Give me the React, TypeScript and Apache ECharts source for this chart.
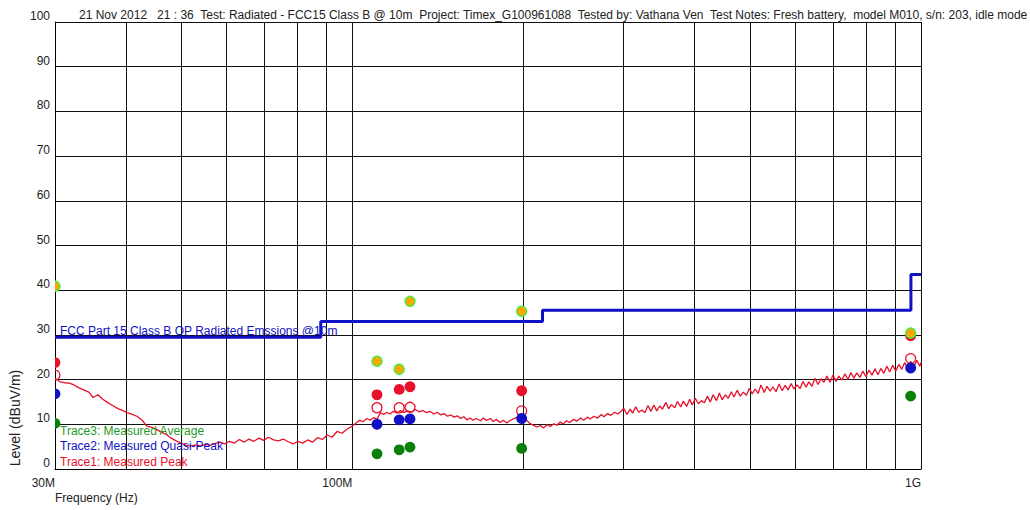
import React, { useEffect, useRef } from 'react';
import * as echarts from 'echarts';

// ---- Axis ticks / labels ----
const gridFreqs = [40, 50, 60, 70, 80, 90, 100, 200, 300, 400, 500, 600, 700, 800, 900, 1000]; // MHz
const xLabelFreqs = [30, 100, 1000]; // MHz
const xLabelTexts = ['30M', '100M', '1G'];

// ---- Trace1: Measured Peak (sweep), MHz / dBuV/m ----
const lowFreqs = [30, 30.6, 31.2, 31.8, 32.4, 33, 33.7, 34.4, 35, 35.7, 36.4, 37.2, 37.9, 38.7, 39.4, 40.2, 41, 41.8, 42.7, 43.5, 44.4, 45.3, 46.2, 47.1, 48, 49, 50, 51, 52, 53, 54, 55.1, 56.2, 57.3, 58.5, 59.6, 60.8, 62, 63.3, 64.5, 65.8, 67.1, 68.5, 69.8, 71.2, 72.7, 74.1, 75.6, 77.1, 78.7, 80.2, 81.8, 83.5, 85.1, 86.8, 88.6, 90.3, 92.1, 94, 95.9, 97.8];
const lowLevels = [20.3, 19.5, 19.3, 19.2, 18.8, 18.2, 17.7, 17.2, 16.0, 16.6, 15.6, 14.8, 14.2, 13.5, 13.1, 12.6, 12.2, 11.8, 10.9, 9.6, 9.3, 8.8, 8.2, 7.7, 6.9, 6.3, 5.8, 5.3, 5.1, 5.4, 5.1, 5.5, 5.3, 5.7, 6.0, 5.6, 6.2, 5.8, 6.6, 6.0, 6.7, 6.2, 6.9, 6.4, 7.1, 6.5, 6.3, 6.7, 6.1, 5.6, 6.2, 5.8, 6.5, 6.0, 7.0, 6.6, 7.6, 7.1, 8.4, 8.0, 8.9];
const midFreqs = [100, 101.5, 103, 104.5, 106, 107.5, 109, 110.5, 112, 113.5, 115, 116.5, 118, 120, 121.5, 123, 125, 127, 129, 131, 133, 135, 137, 139, 141, 143, 145, 147, 149, 151, 153, 155, 157, 159, 161, 163, 165, 168, 170, 172, 175, 177, 179, 182, 184, 187, 189, 192, 195, 197, 200, 203, 205, 208, 211, 214, 217, 220, 223, 226, 229, 232, 235, 238, 241, 245, 248, 252, 255, 259, 262, 266, 270, 274, 277, 281, 285, 289, 293, 297];
const midLevels = [9.6, 10.3, 10.9, 10.6, 11.3, 10.9, 11.5, 11.1, 12.6, 12.2, 12.7, 12.3, 12.9, 12.5, 13.1, 12.6, 13.0, 12.7, 13.3, 12.8, 13.1, 12.6, 12.9, 12.3, 12.7, 12.1, 12.4, 11.8, 12.1, 11.6, 11.9, 11.3, 11.7, 11.0, 11.4, 10.9, 11.3, 10.8, 11.4, 10.9, 11.3, 10.6, 11.1, 10.4, 10.9, 10.3, 10.8, 11.2, 11.6, 11.9, 11.4, 10.8, 10.2, 9.8, 9.4, 9.7, 9.2, 9.9, 9.5, 10.1, 9.8, 10.5, 10.1, 10.8, 10.4, 11.1, 10.7, 11.4, 10.9, 11.6, 11.2, 11.8, 11.4, 12.2, 11.7, 12.4, 12.0, 12.7, 12.3, 12.9];
const highFreqs = [300, 304, 308, 311, 315, 319, 323, 327, 331, 335, 339, 343, 347, 351, 356, 360, 364, 369, 373, 378, 382, 387, 392, 396, 401, 406, 411, 416, 421, 426, 431, 437, 442, 447, 453, 458, 464, 469, 475, 481, 487, 493, 499, 505, 511, 517, 523, 530, 536, 543, 549, 556, 563, 570, 577, 584, 591, 598, 605, 613, 620, 628, 635, 643, 651, 659, 667, 675, 683, 692, 700, 709, 717, 726, 735, 744, 753, 762, 771, 781, 790, 800, 810, 820, 830, 840, 850, 860, 871, 881, 892, 903, 914, 925, 936, 948, 959, 971, 983, 995, 1000];
const highLevels = [13.6, 12.2, 13.4, 12.5, 13.9, 12.7, 13.2, 12.6, 14.2, 12.9, 14.3, 13.0, 14.1, 13.4, 14.9, 13.5, 14.4, 13.7, 15.1, 13.9, 15.2, 14.0, 15.6, 14.3, 15.8, 14.6, 15.3, 14.8, 16.3, 15.0, 16.6, 15.3, 17.0, 15.5, 16.6, 15.8, 17.3, 16.1, 17.6, 16.3, 17.2, 16.5, 18.0, 16.8, 17.9, 16.9, 18.8, 17.1, 18.5, 17.4, 18.4, 17.3, 19.0, 17.5, 18.7, 17.7, 19.1, 17.9, 18.8, 18.0, 19.6, 18.3, 19.5, 18.5, 20.3, 18.9, 20.2, 19.4, 20.8, 19.4, 21.0, 19.6, 20.8, 19.9, 21.3, 20.0, 21.6, 20.3, 21.5, 20.5, 21.9, 20.7, 22.1, 21.0, 22.4, 21.1, 22.5, 21.4, 23.0, 21.7, 23.2, 21.9, 23.4, 22.3, 23.8, 22.5, 24.1, 22.8, 24.3, 23.0, 23.8];

// ---- Limit: FCC Part 15 Class B QP @10m ----
const limitFreqs = [30, 88, 88, 216, 216, 960, 960, 1000];
const limitLevels = [29.5, 29.5, 33, 33, 35.5, 35.5, 43.5, 43.5];

// ---- Marker points (MHz) ----
const markerFreqs = [30, 110.5, 120.9, 126.3, 198.5, 958.9];
const peakHollowLevels = [21.0, 13.7, 13.7, 13.8, 13.0, 24.7];
const peakLevels = [23.8, 16.6, 17.8, 18.4, 17.5, 29.8];
const avgLevels = [10.2, 3.4, 4.3, 4.9, 4.6, 16.3];
const qpLevels = [16.8, 10.0, 11.0, 11.2, 11.3, 22.6];
const limitMarkerLevels = [40.9, 24.1, 22.3, 37.5, 35.3, 30.4];

const TITLE = '21 Nov 2012   21 : 36  Test: Radiated - FCC15 Class B @ 10m  Project: Timex_G100961088  Tested by: Vathana Ven  Test Notes: Fresh battery,  model M010, s/n: 203, idle mode';

const FONT = "'Liberation Sans', Arial, sans-serif";
const RED = '#e8102a';
const BLUE = '#1010c4';
const GREEN = '#0a800a';

const lg = (f: number) => Math.log10(f);
const pairs = (fs: number[], vs: number[]) => fs.map((f, i) => [lg(f), vs[i]]);

function markerSeries(name: string, levels: number[], r: number, style: any, z: number) {
  return {
    type: 'custom',
    name,
    clip: true,
    z,
    data: pairs(markerFreqs, levels),
    encode: { x: 0, y: 1 },
    renderItem: (params: any, api: any) => {
      const p = api.coord([api.value(0), api.value(1)]);
      return { type: 'circle', shape: { cx: p[0], cy: p[1], r }, style };
    },
  };
}

function buildOption() {
  const text = (t: string, x: number, y: number, fill: string, fontSize = 12, extra: any = {}) => ({
    type: 'text',
    x,
    y,
    z: 50,
    ...extra,
    style: { text: t, fill, fontSize, fontFamily: FONT, align: 'left', verticalAlign: 'middle', ...(extra.style || {}) },
  });
  return {
    animation: false,
    backgroundColor: '#ffffff',
    textStyle: { fontFamily: FONT },
    grid: { left: 55, right: 109, top: 22, bottom: 41 },
    xAxis: {
      type: 'value',
      min: lg(30),
      max: lg(1000),
      axisLine: { show: true, lineStyle: { color: '#000', width: 1 } },
      axisTick: { show: false, customValues: gridFreqs.map(lg) },
      splitLine: { show: true, lineStyle: { color: '#111', width: 1 } },
      axisLabel: {
        customValues: xLabelFreqs.map(lg),
        formatter: (v: number) => {
          let best = 0;
          xLabelFreqs.forEach((f, i) => {
            if (Math.abs(lg(f) - v) < Math.abs(lg(xLabelFreqs[best]) - v)) best = i;
          });
          return xLabelTexts[best];
        },
        align: 'right',
        fontSize: 12,
        color: '#222',
        fontFamily: FONT,
        margin: 8,
        showMinLabel: true,
        showMaxLabel: true,
      },
    },
    yAxis: {
      type: 'value',
      min: 0,
      max: 100,
      interval: 10,
      axisLine: { show: true, lineStyle: { color: '#000', width: 1 } },
      axisTick: { show: false },
      splitLine: { show: true, lineStyle: { color: '#111', width: 1 } },
      axisLabel: { fontSize: 12, color: '#222', fontFamily: FONT, verticalAlign: 'bottom', margin: 5 },
    },
    graphic: [
      text(TITLE, 79, 15, '#222'),
      text('FCC Part 15 Class B QP Radiated Emssions @10m', 60, 331, BLUE),
      text('Trace3: Measured Average', 60, 431, '#1f9a1f'),
      text('Trace2: Measured Quasi-Peak', 60, 446, BLUE),
      text('Trace1: Measured Peak', 60, 462, RED),
      text('Frequency (Hz)', 55, 498, '#222'),
      text('Level (dBuV/m)', 15, 418, '#222', 14, { rotation: Math.PI / 2, style: { align: 'center' } }),
    ],
    series: [
      {
        type: 'line',
        name: 'Trace1: Measured Peak',
        data: [...pairs(lowFreqs, lowLevels), ...pairs(midFreqs, midLevels), ...pairs(highFreqs, highLevels)],
        showSymbol: false,
        lineStyle: { color: RED, width: 1.3 },
        itemStyle: { color: RED },
        z: 2,
      },
      {
        type: 'line',
        name: 'Limit',
        data: pairs(limitFreqs, limitLevels),
        showSymbol: false,
        lineStyle: { color: BLUE, width: 3 },
        itemStyle: { color: BLUE },
        z: 3,
      },
      markerSeries('Peak hollow', peakHollowLevels, 5, { fill: 'rgba(255,255,255,0)', stroke: RED, lineWidth: 1.3 }, 4),
      markerSeries('Peak', peakLevels, 5.4, { fill: RED, stroke: RED, lineWidth: 0 }, 5),
      markerSeries('Average', avgLevels, 5.4, { fill: GREEN, stroke: GREEN, lineWidth: 0 }, 6),
      markerSeries('Quasi-Peak', qpLevels, 5.4, { fill: BLUE, stroke: BLUE, lineWidth: 0 }, 7),
      markerSeries('Limit markers', limitMarkerLevels, 5, { fill: '#ffa500', stroke: '#44ee44', lineWidth: 1.5 }, 8),
    ],
  };
}

export default function App() {
  const ref = useRef<HTMLDivElement>(null);
  useEffect(() => {
    const chart = echarts.init(ref.current!, null, { renderer: 'svg' });
    chart.setOption(buildOption() as any);
    return () => chart.dispose();
  }, []);
  return (
    <div
      ref={ref}
      style={{ position: 'absolute', left: 0, top: 0, width: 1030, height: 510, background: '#fff', overflow: 'hidden' }}
    />
  );
}
